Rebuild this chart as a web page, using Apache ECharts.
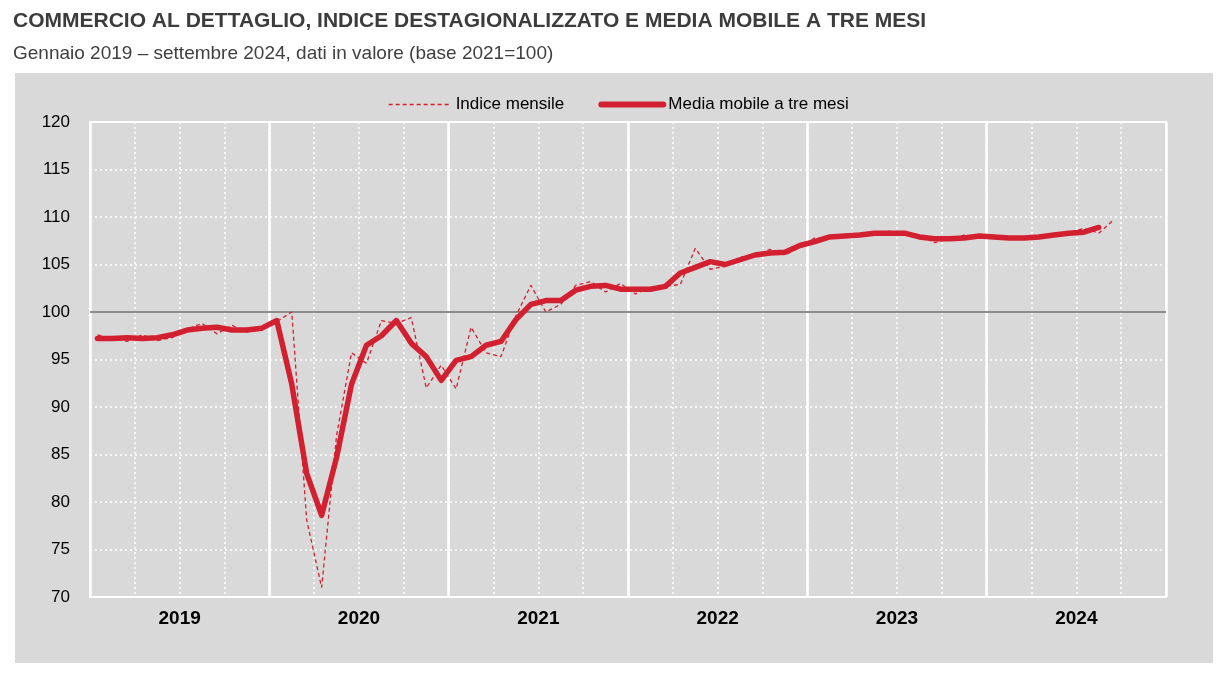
<!DOCTYPE html>
<html>
<head>
<meta charset="utf-8">
<script src="https://cdn.jsdelivr.net/npm/echarts@6/dist/echarts.min.js"></script>
<style>
html,body{margin:0;padding:0;background:#fff;}
#c{width:1225px;height:675px;}
</style>
</head>
<body>
<div id="c"></div>
<script>
// ---- data ----
const years = ['2019','2020','2021','2022','2023','2024'];
const seriesNames = ['Indice mensile', 'Media mobile a tre mesi'];
// Indice mensile, gennaio 2019 - settembre 2024
const monthly = [
  97.6, 97.2, 96.9, 97.6, 97.0, 97.3, 98.2, 98.8, 97.7, 98.6, 97.9, 98.1,
  99.0, 100.0, 78.1, 71.0, 87.0, 95.7, 94.6, 99.1, 98.8, 99.4, 92.0, 94.4,
  91.9, 98.4, 95.7, 95.3, 99.6, 102.8, 100.0, 100.8, 102.8, 103.2, 102.1, 103.0,
  101.9, 102.6, 102.7, 102.9, 106.7, 104.5, 104.8, 105.8, 105.9, 106.6, 106.0, 106.8,
  107.8, 107.7, 108.2, 108.1, 108.3, 108.5, 108.3, 108.1, 107.3, 107.7, 108.1, 107.8,
  108.0, 107.8, 107.7, 108.0, 108.2, 108.4, 108.8, 108.3, 109.7
];
// Media mobile a tre mesi, gennaio 2019 - agosto 2024
const movingAvg = [
  97.2, 97.2, 97.3, 97.2, 97.3, 97.6, 98.1, 98.3, 98.4, 98.1, 98.1, 98.3,
  99.1, 92.4, 83.0, 78.6, 84.7, 92.4, 96.5, 97.5, 99.1, 96.7, 95.3, 92.8,
  94.9, 95.3, 96.5, 96.9, 99.2, 100.8, 101.2, 101.2, 102.3, 102.7, 102.8, 102.4,
  102.4, 102.4, 102.7, 104.1, 104.7, 105.3, 105.0, 105.5, 106.0, 106.2, 106.3, 107.0,
  107.4, 107.9, 108.0, 108.1, 108.3, 108.3, 108.3, 107.9, 107.7, 107.7, 107.8, 108.0,
  107.9, 107.8, 107.8, 107.9, 108.1, 108.3, 108.4, 108.9
];
const yMin = 70, yMax = 120, yStep = 5, refValue = 100;

const RED = '#d22030';
const FONT = "'Liberation Sans', Arial, sans-serif";
const toXY = arr => arr.map((v, i) => [i + 0.5, v]);

const chart = echarts.init(document.getElementById('c'), null, {renderer: 'canvas'});
chart.setOption({
  backgroundColor: '#ffffff',
  animation: false,
  textStyle: {fontFamily: FONT},
  graphic: [
    {type: 'rect', z: -10, silent: true, shape: {x: 15, y: 73, width: 1198, height: 590}, style: {fill: '#d9d9d9'}},
    {type: 'text', left: 13, top: 11, style: {text: 'COMMERCIO AL DETTAGLIO, INDICE DESTAGIONALIZZATO E MEDIA MOBILE A TRE MESI', fill: '#3c3c3c', font: "bold 21px 'Liberation Sans', Arial, sans-serif"}},
    {type: 'text', left: 13, top: 44, style: {text: 'Gennaio 2019 \u2013 settembre 2024, dati in valore (base 2021=100)', fill: '#404040', font: "19px 'Liberation Sans', Arial, sans-serif"}}
  ],
  legend: {
    top: 91, left: 383,
    itemWidth: 62, itemHeight: 14, itemGap: 34,
    itemStyle: {opacity: 0},
    textStyle: {fontSize: 17, color: '#000', fontFamily: FONT},
    data: [
      {name: seriesNames[0], lineStyle: {width: 1.3, type: [4, 3]}},
      {name: seriesNames[1], lineStyle: {width: 6, type: 'solid'}}
    ]
  },
  grid: {left: 90, right: 59, top: 122, bottom: 78, show: true, borderColor: '#ffffff', borderWidth: 2, backgroundColor: 'transparent'},
  xAxis: [
    {
      type: 'value', min: 0, max: years.length * 12, interval: 3,
      axisLine: {show: false}, axisTick: {show: false},
      splitLine: {show: true, lineStyle: {color: '#ffffff', width: 1.5, type: [2, 3]}},
      axisLabel: {
        margin: 12, fontSize: 19, fontWeight: 'bold', color: '#000', fontFamily: FONT,
        formatter: v => (v % 12 === 6 ? years[(v - 6) / 12] : '')
      }
    },
    {
      type: 'value', min: 0, max: years.length * 12, interval: 12, position: 'bottom',
      axisLine: {show: false}, axisTick: {show: false}, axisLabel: {show: false},
      splitLine: {show: true, lineStyle: {color: '#ffffff', width: 2.5, type: 'solid'}}
    }
  ],
  yAxis: {
    type: 'value', min: yMin, max: yMax, interval: yStep,
    axisLine: {show: false}, axisTick: {show: false},
    axisLabel: {margin: 20, fontSize: 17, color: '#000', fontFamily: FONT},
    splitLine: {show: true, lineStyle: {color: '#ffffff', width: 1.5, type: [2, 3]}}
  },
  series: [
    {
      name: seriesNames[0], type: 'line', xAxisIndex: 0, data: toXY(monthly),
      symbol: 'none', z: 3,
      lineStyle: {color: RED, width: 1.3, type: [4, 3]},
      itemStyle: {color: RED},
      markLine: {
        silent: true, symbol: 'none', z: 1, label: {show: false},
        lineStyle: {color: '#8c8c8c', width: 2, type: 'solid'},
        data: [{yAxis: refValue}]
      }
    },
    {
      name: seriesNames[1], type: 'line', xAxisIndex: 0, data: toXY(movingAvg),
      symbol: 'none', z: 4,
      lineStyle: {color: RED, width: 5.5, type: 'solid', join: 'round', cap: 'round'},
      itemStyle: {color: RED}
    }
  ]
});
</script>
</body>
</html>
